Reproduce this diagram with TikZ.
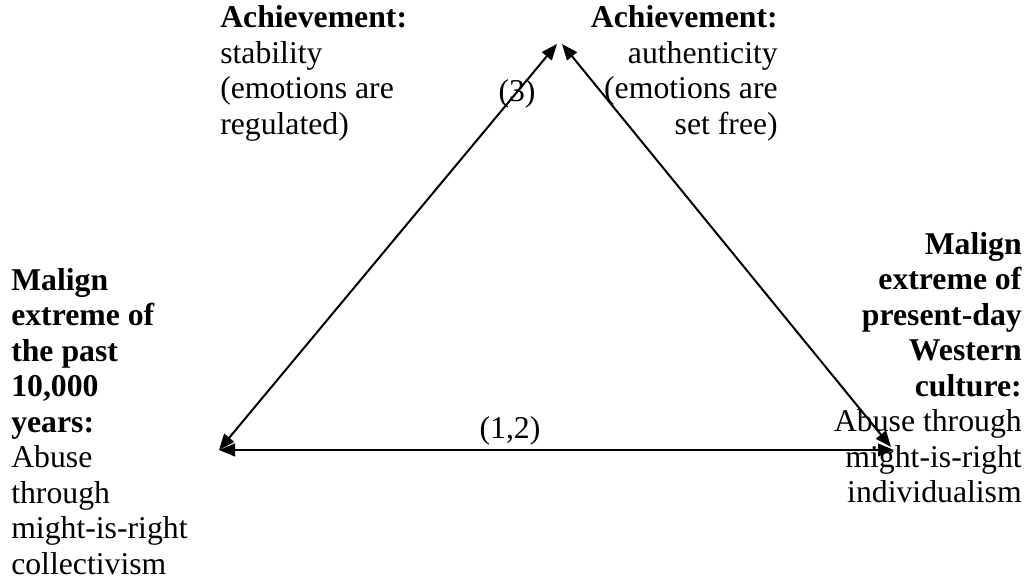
\documentclass[tikz,border=0pt]{standalone}
\usepackage{fontspec}
\setmainfont{Liberation Serif}
\usetikzlibrary{arrows.meta}
\tikzset{
  txt/.style={inner sep=0pt, font=\fontsize{23.8pt}{26.6pt}\selectfont},
  arr/.style={line width=1.5pt, {Triangle[length=12pt,width=9.5pt]}-{Triangle[length=12pt,width=9.5pt]}},
  lbl/.style={inner sep=0pt, font=\fontsize{23.8pt}{26.6pt}\selectfont, anchor=base}
}
\begin{document}
\begin{tikzpicture}[x=0.75pt,y=-0.75pt]
\useasboundingbox (0,0) rectangle (1030,588);
\coordinate (topL) at (557,44);
\coordinate (topR) at (562,44);
\coordinate (left) at (219,450);
\coordinate (rightD) at (891,447);
\coordinate (right) at (894,450);
\draw[arr] (left) -- (topL);
\draw[arr] (rightD) -- (topR);
\draw[arr] (left) -- (right);
\node[lbl] (l3) at (517,102) {(3)};
\node[lbl] (l12) at (510,438) {(1,2)};
\node[txt, anchor=base west, align=left] (tl) at (220,134.4)
  {\textbf{Achievement:}\\stability\\(emotions are\\regulated)};
\node[txt, anchor=base east, align=right] (tr) at (778,134.4)
  {\textbf{Achievement:}\\authenticity\\(emotions are\\set free)};
\node[txt, anchor=base west, align=left] (lft) at (11,574)
  {\textbf{Malign}\\\textbf{extreme of}\\\textbf{the past}\\\textbf{10,000}\\\textbf{years:}\\Abuse\\through\\might-is-right\\collectivism};
\node[txt, anchor=base east, align=right] (rgt) at (1022,502.5)
  {\textbf{Malign}\\\textbf{extreme of}\\\textbf{present-day}\\\textbf{Western}\\\textbf{culture:}\\Abuse through\\might-is-right\\individualism};
\end{tikzpicture}
\end{document}
